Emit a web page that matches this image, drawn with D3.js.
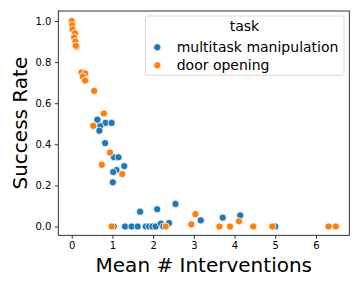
<!DOCTYPE html>
<html>
<head>
<meta charset="utf-8">
<script src="https://cdn.jsdelivr.net/npm/d3@7"></script>
<style>
  body { margin: 0; background: #fff; }
  text { font-family: "DejaVu Sans", sans-serif; }
</style>
</head>
<body>
<svg id="chart"></svg>
<script>
let w = 360;
let h = 288;

// door opening (orange)
const doorX = [0.0, 0.01, 0.02, 0.08, 0.06, 0.09, 0.12, 0.10, 0.24, 0.33, 0.27, 0.33, 0.55,
  0.79, 0.53, 0.94, 0.74, 1.24, 0.98, 2.31, 3.04, 2.94, 3.63, 3.89, 4.11, 4.46, 4.93, 6.31, 6.49];
const doorY = [1.0, 0.98, 0.96, 0.94, 0.92, 0.90, 0.875, 0.88, 0.75, 0.745, 0.73, 0.71, 0.66,
  0.55, 0.49, 0.36, 0.30, 0.255, 0.0, 0.0, 0.06, 0.01, 0.0, 0.0, 0.025, 0.0, 0.0, 0.0, 0.0];

// multitask manipulation (blue)
const multiX = [0.63, 0.83, 0.98, 0.70, 0.68, 0.82, 1.04, 1.15, 1.29, 1.10, 1.02, 1.01,
  1.03, 1.31, 1.47, 1.62, 1.82, 1.90, 1.98, 2.06, 2.19, 2.25, 2.39, 1.68, 2.10, 2.55, 3.17, 3.71, 4.14, 5.0];
const multiY = [0.52, 0.504, 0.504, 0.488, 0.466, 0.406, 0.337, 0.337, 0.294, 0.275, 0.265, 0.215,
  0, 0, 0, 0, 0, 0, 0, 0, 0.014, 0, 0.017, 0.072, 0.084, 0.11, 0.03, 0.043, 0.054, 0];

const xTicks = [0, 1, 2, 3, 4, 5, 6];
const yTicks = [0, 0.2, 0.4, 0.6, 0.8, 1.0];
const taskNames = ['multitask manipulation', 'door opening'];
const taskColors = ['#1f77b4', '#ff7f0e'];

const pLeft = 58.3, pRight = 349.3, pTop = 11, pBottom = 235.3;

const svg = d3.select('#chart')
  .attr('width', w)
  .attr('height', h)

const x = d3.scaleLinear().domain([-0.33, 6.82]).range([pLeft, pRight]);
const y = d3.scaleLinear().domain([-0.0428, 1.0487]).range([pBottom, pTop]);

const xAxis = d3.axisBottom(x).tickValues(xTicks).tickFormat(d3.format('d'))
  .tickSize(3.5).tickPadding(3.5);
const yAxis = d3.axisLeft(y).tickValues(yTicks).tickFormat(d3.format('.1f'))
  .tickSize(3.5).tickPadding(3.5);

const gx = svg.append('g').attr('transform', `translate(0,${pBottom})`).call(xAxis);
const gy = svg.append('g').attr('transform', `translate(${pLeft},0)`).call(yAxis);
[gx, gy].forEach(g => {
  g.select('.domain').remove();
  g.selectAll('line').attr('stroke', '#000').attr('stroke-width', 0.8);
  g.selectAll('text').attr('fill', '#000').style('font-size', '10px')
    .style('font-family', '"DejaVu Sans", sans-serif');
});

// points
const multi = multiX.map((d, i) => [d, multiY[i]]);
const door = doorX.map((d, i) => [d, doorY[i]]);

svg.append('g').selectAll('circle')
  .data(multi)
  .enter()
  .append('circle')
  .attr('cx', d => x(d[0]))
  .attr('cy', d => y(d[1]))
  .attr('r', 3.6)
  .attr('fill', taskColors[0])
  .attr('stroke', '#fff')
  .attr('stroke-width', 0.75)

svg.append('g').selectAll('circle')
  .data(door)
  .enter()
  .append('circle')
  .attr('cx', d => x(d[0]))
  .attr('cy', d => y(d[1]))
  .attr('r', 3.6)
  .attr('fill', taskColors[1])
  .attr('stroke', '#fff')
  .attr('stroke-width', 0.75)

// frame
svg.append('rect')
  .attr('x', pLeft).attr('y', pTop)
  .attr('width', pRight - pLeft).attr('height', pBottom - pTop)
  .attr('fill', 'none').attr('stroke', '#000').attr('stroke-width', 0.8)

// axis labels
svg.append('text')
  .attr('x', (pLeft + pRight) / 2)
  .attr('y', 272)
  .attr('text-anchor', 'middle')
  .style('font-size', '20px')
  .text('Mean # Interventions')

svg.append('text')
  .attr('transform', `translate(27,${(pTop + pBottom) / 2}) rotate(-90)`)
  .attr('text-anchor', 'middle')
  .style('font-size', '20px')
  .text('Success Rate')

// legend
const legend = svg.append('g')
legend.append('rect')
  .attr('x', 145.3).attr('y', 16)
  .attr('width', 198.7).attr('height', 59.3)
  .attr('rx', 2)
  .attr('fill', 'rgba(255,255,255,0.8)')
  .attr('stroke', '#d0d0d0').attr('stroke-width', 0.8)

legend.append('text')
  .attr('x', 244.5).attr('y', 30.5)
  .attr('text-anchor', 'middle')
  .style('font-size', '14px')
  .text('task')

legend.selectAll('.item')
  .data(taskNames)
  .enter()
  .append('g')
  .attr('class', 'item')
  .attr('transform', (d, i) => `translate(0,${47.3 + i * 18})`)
  .each(function(d, i) {
    const g = d3.select(this);
    g.append('circle').attr('cx', 157.3).attr('cy', 0).attr('r', 3.6)
      .attr('fill', taskColors[i]).attr('stroke', '#fff').attr('stroke-width', 0.75);
    g.append('text').attr('x', 176.7).attr('y', 5)
      .style('font-size', '14px').text(d);
  })
</script>
</body>
</html>
